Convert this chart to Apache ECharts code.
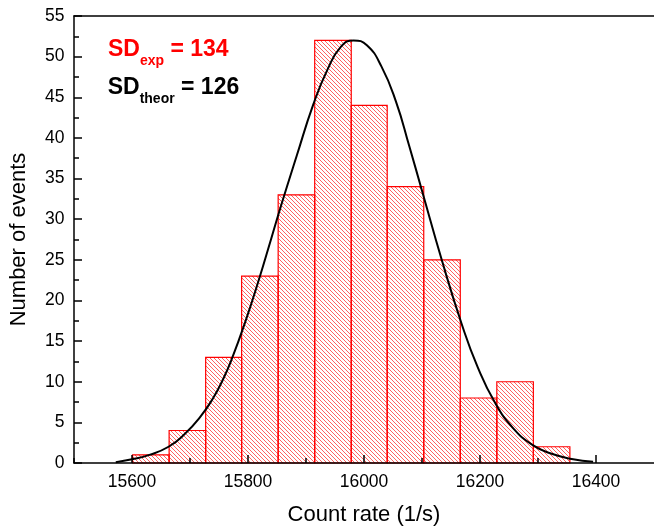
<!DOCTYPE html>
<html><head><meta charset="utf-8">
<script src="https://cdn.jsdelivr.net/npm/echarts@6/dist/echarts.min.js"></script>
<style>html,body{margin:0;padding:0;background:#fff}#c{width:654px;height:531px}</style>
</head><body><div id="c"></div>
<script>
// ---- data ----
const binEdges = [15601, 15664, 15727, 15789, 15852, 15915, 15978, 16040, 16103, 16166, 16229, 16292, 16355];
const counts = [1, 4, 13, 23, 33, 52, 44, 34, 25, 8, 10, 2];
const curveX = [15572, 15600, 15630, 15663, 15690, 15718, 15740, 15757, 15771, 15795, 15819, 15840, 15858, 15884, 15912, 15937, 15960, 15982, 16005, 16030, 16055, 16078, 16100, 16134, 16168, 16196, 16226, 16257, 16291, 16325, 16358, 16395];
const curveY = [0.1, 0.45, 1.0, 2.0, 3.5, 5.7, 8.0, 10.3, 12.6, 17.3, 22.6, 27.6, 31.9, 37.8, 44.0, 48.4, 51.2, 52.0, 51.4, 48.8, 44.5, 39.0, 33.5, 25.0, 17.2, 11.8, 7.4, 4.3, 2.2, 1.1, 0.5, 0.15];
const xMajorTicks = [15600, 15800, 16000, 16200, 16400];
const xMinorTicks = [15500, 15700, 15900, 16100, 16300];
const yMinorTicks = [2.5, 7.5, 12.5, 17.5, 22.5, 27.5, 32.5, 37.5, 42.5, 47.5, 52.5];
const sdExp = 134, sdTheor = 126;
const xTitle = 'Count rate (1/s)', yTitle = 'Number of events';

// ---- hatch pattern ----
const pc = document.createElement('canvas'); pc.width = 4; pc.height = 4;
const g = pc.getContext('2d');
g.fillStyle = 'rgba(255,0,0,0.62)';
for (let i = 0; i < 4; i++) g.fillRect(i, i, 1, 1);
const hatch = { image: pc, repeat: 'repeat' };

const FONT = "'Liberation Sans', Arial, sans-serif";
const chart = echarts.init(document.getElementById('c'), null, { renderer: 'canvas' });
const histData = counts.map((c, i) => [binEdges[i], binEdges[i + 1], c]);
const curveData = curveX.map((x, i) => [x, curveY[i]]);
const plain = v => String(v);

const axisLine = { show: true, lineStyle: { color: '#000', width: 1.5 } };
const mainRich = (color) => ({
  a: { fontSize: 23, fontWeight: 'bold', fontFamily: FONT, fill: color, lineHeight: 23, verticalAlign: 'top' },
  s: { fontSize: 14, fontWeight: 'bold', fontFamily: FONT, fill: color, lineHeight: 14, padding: [15.8, 0, 0, 0], verticalAlign: 'top' }
});
chart.setOption({
  animation: false,
  textStyle: { fontFamily: FONT },
  grid: { left: 70.7, top: 16, width: 593, bottom: 67, containLabel: false },
  xAxis: [
    { type: 'value', min: 15500, max: 16500, position: 'bottom', z: 5,
      axisLine: axisLine, splitLine: { show: false },
      axisTick: { show: true, inside: true, length: 8, customValues: xMajorTicks, lineStyle: { color: '#000', width: 1.5 } },
      axisLabel: { customValues: xMajorTicks, formatter: plain, fontSize: 17.5, color: '#000', margin: 10.5, fontFamily: FONT },
      name: xTitle, nameLocation: 'middle', nameGap: 41,
      nameTextStyle: { fontSize: 22, color: '#000', fontFamily: FONT, verticalAlign: 'top' } },
    { type: 'value', min: 15500, max: 16500, position: 'bottom', z: 5,
      axisLine: { show: false }, splitLine: { show: false }, axisLabel: { show: false },
      axisTick: { show: true, inside: true, length: 5, customValues: xMinorTicks, lineStyle: { color: '#000', width: 1.5 } } },
    { type: 'value', min: 15500, max: 16500, position: 'top', z: 5,
      axisLine: axisLine, splitLine: { show: false }, axisLabel: { show: false }, axisTick: { show: false } }
  ],
  yAxis: [
    { type: 'value', min: 0, max: 55, interval: 5, position: 'left', z: 5,
      axisLine: axisLine, splitLine: { show: false },
      axisTick: { show: true, inside: true, length: 8, lineStyle: { color: '#000', width: 1.5 } },
      axisLabel: { formatter: plain, fontSize: 17.5, color: '#000', margin: 9.5, fontFamily: FONT },
      name: yTitle, nameLocation: 'middle', nameGap: 44,
      nameTextStyle: { fontSize: 22, color: '#000', fontFamily: FONT } },
    { type: 'value', min: 0, max: 55, position: 'left', z: 5,
      axisLine: { show: false }, splitLine: { show: false }, axisLabel: { show: false },
      axisTick: { show: true, inside: true, length: 5, customValues: yMinorTicks, lineStyle: { color: '#000', width: 1.5 } } }
  ],
  series: [
    { type: 'custom', xAxisIndex: 0, yAxisIndex: 0, z: 2,
      data: histData, encode: { x: [0, 1], y: 2 },
      renderItem: function (params, api) {
        const p0 = api.coord([api.value(0), api.value(2)]);
        const p1 = api.coord([api.value(1), 0]);
        return { type: 'rect',
          shape: { x: p0[0], y: p0[1], width: p1[0] - p0[0], height: p1[1] - p0[1] },
          style: { fill: hatch, stroke: '#ff0000', lineWidth: 1.2 } };
      } },
    { type: 'line', xAxisIndex: 0, yAxisIndex: 0, z: 4, data: curveData,
      smooth: 0.5, showSymbol: false, symbol: 'none',
      lineStyle: { color: '#000', width: 2 } }
  ],
  graphic: [
    { type: 'text', left: 108, top: 37.9, z: 10,
      style: { text: '{a|SD}{s|exp}{a| = ' + sdExp + '}', rich: mainRich('#ff0000') } },
    { type: 'text', left: 107.7, top: 76.2, z: 10,
      style: { text: '{a|SD}{s|theor}{a| = ' + sdTheor + '}', rich: mainRich('#000') } }
  ]
});
</script>
</body></html>
